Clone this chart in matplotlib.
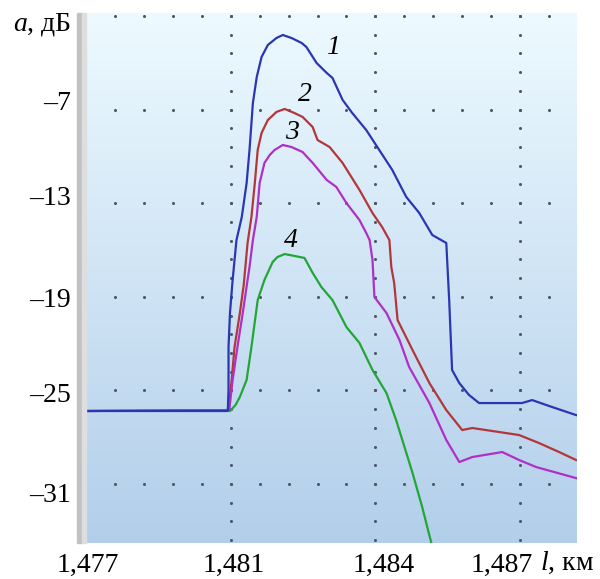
import numpy as np
import matplotlib
matplotlib.use("Agg")
import matplotlib.pyplot as plt
from matplotlib.transforms import ScaledTranslation
from matplotlib.patches import Rectangle

plt.rcParams['font.family'] = ['Liberation Serif', 'DejaVu Serif']
plt.rcParams['mathtext.fontset'] = 'custom'
plt.rcParams['mathtext.it'] = 'Liberation Serif:italic'
plt.rcParams['mathtext.rm'] = 'Liberation Serif'

# ---------------- data (l in km, a in dB) ----------------
x1 = [1.47700, 1.48092, 1.48094, 1.48094, 1.48098, 1.48104, 1.48112, 1.48123, 1.48133,
      1.48139, 1.48146, 1.48154, 1.48164, 1.48177, 1.48195, 1.48208, 1.48226, 1.48247,
      1.48257, 1.48278, 1.48299, 1.48311, 1.48332, 1.48352, 1.48381, 1.48408, 1.48435,
      1.48464, 1.48491, 1.48518, 1.48547, 1.48553, 1.48559, 1.48574, 1.48594, 1.48615,
      1.48657, 1.48704, 1.48725, 1.48766, 1.48816]
y1 = [-26.32, -26.32, -24.97, -22.22, -20.04, -17.92, -15.36, -13.88, -11.71,
      -9.59, -6.58, -4.91, -3.63, -2.86, -2.41, -2.22, -2.41, -2.73,
      -2.99, -4.01, -4.65, -4.97, -6.38, -7.22, -8.31, -9.59, -10.87,
      -12.60, -13.63, -15.04, -15.55, -19.21, -23.69, -24.53, -25.29, -25.81,
      -25.81, -25.81, -25.62, -26.06, -26.58]

x2 = [1.47700, 1.48094, 1.48102, 1.48108, 1.48119, 1.48127, 1.48135, 1.48143, 1.48150,
      1.48156, 1.48164, 1.48177, 1.48195, 1.48212, 1.48232, 1.48249, 1.48270, 1.48280,
      1.48305, 1.48332, 1.48367, 1.48394, 1.48414, 1.48429, 1.48433, 1.48439, 1.48446,
      1.48477, 1.48512, 1.48547, 1.48580, 1.48601, 1.48657, 1.48698, 1.48739, 1.48781,
      1.48816]
y2 = [-26.32, -26.26, -24.33, -22.22, -20.04, -18.24, -15.55, -13.88, -11.71,
      -9.59, -8.50, -7.67, -7.15, -6.96, -7.22, -7.47, -8.12, -8.95,
      -9.40, -10.42, -12.15, -13.63, -14.53, -15.36, -17.09, -18.12, -20.49,
      -22.41, -24.53, -26.26, -27.54, -27.41, -27.67, -27.86, -28.37, -28.95,
      -29.46]

x3 = [1.47700, 1.48096, 1.48104, 1.48114, 1.48125, 1.48135, 1.48139, 1.48146, 1.48154,
      1.48160, 1.48170, 1.48181, 1.48191, 1.48208, 1.48226, 1.48249, 1.48270, 1.48299,
      1.48319, 1.48340, 1.48367, 1.48381, 1.48388, 1.48394, 1.48398, 1.48423, 1.48450,
      1.48470, 1.48512, 1.48547, 1.48574, 1.48601, 1.48663, 1.48698, 1.48733, 1.48816]
y3 = [-26.32, -26.26, -24.33, -22.22, -20.04, -17.92, -17.09, -15.36, -13.88,
      -11.71, -10.42, -9.91, -9.59, -9.27, -9.40, -9.72, -10.42, -11.51,
      -11.96, -12.99, -14.08, -14.91, -15.36, -16.64, -19.01, -20.04, -21.77,
      -23.50, -25.81, -28.18, -29.59, -29.27, -28.95, -29.46, -29.91, -30.62]

x4 = [1.48098, 1.48110, 1.48119, 1.48133, 1.48143, 1.48156, 1.48170, 1.48187, 1.48197,
      1.48212, 1.48232, 1.48253, 1.48270, 1.48288, 1.48311, 1.48340, 1.48367, 1.48394,
      1.48423, 1.48443, 1.48477, 1.48497, 1.48516, 1.48522]
y4 = [-26.32, -25.94, -25.42, -24.33, -22.22, -19.21, -17.92, -16.77, -16.45,
      -16.26, -16.38, -16.51, -17.47, -18.37, -19.21, -20.94, -21.96, -23.69,
      -25.17, -26.90, -30.29, -32.47, -34.78, -35.30]

curve_labels = ["1", "2", "3", "4"]
label_x = [1.48311, 1.48253, 1.48228, 1.48224]
label_y = [-3.05, -6.06, -8.50, -15.42]

xticks = [1.477, 1.481, 1.484, 1.487]
xtick_labels = ["1,477", "1,481", "1,484", "1,487"]
yticks = [-7, -13, -19, -25, -31]
ytick_labels = ["–7", "–13", "–19", "–25", "–31"]

# ---------------- axis scale (compressed left segment) ----------------
BREAK = 1.481
RATIO = 0.75


def fwd(x):
    x = np.asarray(x, dtype=float)
    return np.where(x < BREAK, BREAK + (x - BREAK) * RATIO, x)


def inv(d):
    d = np.asarray(d, dtype=float)
    return np.where(d < BREAK, BREAK + (d - BREAK) / RATIO, d)


fig = plt.figure(figsize=(6.0, 5.79), dpi=100)
pos = [86 / 600, 1 - 543 / 579, (577 - 86) / 600, (543 - 13) / 579]

# background gradient
bg = fig.add_axes(pos, zorder=0)
grad = np.linspace(0, 1, 256)[:, None]
top = np.array([0.93, 0.98, 1.0])
bot = np.array([0.70, 0.81, 0.92])
img = top[None, None, :] * (1 - grad[:, :, None]) + bot[None, None, :] * grad[:, :, None]
bg.imshow(img, aspect='auto', extent=[0, 1, 0, 1], interpolation='bilinear')
bg.set_axis_off()

ax = fig.add_axes(pos, zorder=1)
ax.set_facecolor('none')
ax.set_xscale('function', functions=(fwd, inv))

# dotted grid
dot_color = '#4d5862'
row_vals = [-1, -7, -13, -19, -25, -31]
row_x = [float(inv(BREAK + k * 0.0006)) for k in range(-4, 12)]
for r in row_vals:
    ax.plot(row_x, [r] * len(row_x), ls='none', marker='o', ms=2.2, color=dot_color, mec='none')
col_vals = [1.481, 1.484, 1.487]
col_y = [-1 - 1.2 * j for j in range(29)]
for c in col_vals:
    ax.plot([c] * len(col_y), col_y, ls='none', marker='o', ms=2.2, color=dot_color, mec='none')

lw = 1.6
ax.plot(x4, y4, color='#22a635', lw=lw, solid_joinstyle='round')
ax.plot(x2, y2, color='#b3373a', lw=lw, solid_joinstyle='round')
ax.plot(x3, y3, color='#b02fc6', lw=lw, solid_joinstyle='round')
ax.plot(x1, y1, color='#2a36b4', lw=lw, solid_joinstyle='round')

for t, lx, ly in zip(curve_labels, label_x, label_y):
    ax.text(lx, ly, t, fontsize=20, style='italic', ha='center', va='center')

ax.set_xlim(1.477, 1.48818)
ax.set_ylim(-34.78, -0.81)

for s in ax.spines.values():
    s.set_visible(False)

ax.set_xticks(xticks)
ax.set_xticklabels(xtick_labels)
ax.set_yticks(yticks)
ax.set_yticklabels(ytick_labels)
ax.minorticks_off()
ax.tick_params(axis='x', length=0, pad=7, labelsize=20)
ax.tick_params(axis='y', length=0, pad=11, labelsize=20)

xoffsets = [2, 3, 8, -18]
for lab, dx in zip(ax.get_xticklabels(), xoffsets):
    lab.set_transform(lab.get_transform() + ScaledTranslation(dx / 100, 0, fig.dpi_scale_trans))
yoffsets = [9, 8, -1, -2, -8]
for lab, dy in zip(ax.get_yticklabels(), yoffsets):
    lab.set_transform(lab.get_transform() + ScaledTranslation(0, dy / 100, fig.dpi_scale_trans))

# gray bar at left of plot
fig.patches.append(Rectangle((77 / 600, 1 - 543 / 579), 5 / 600, 530 / 579,
                             transform=fig.transFigure, color='#c2c2c2', zorder=2))
fig.patches.append(Rectangle((82 / 600, 1 - 543 / 579), 4 / 600, 530 / 579,
                             transform=fig.transFigure, color='#dedede', zorder=2))

fig.text(13 / 600, 1 - 30 / 579, r"$a$, дБ", fontsize=20, ha='left', va='baseline')
fig.text(540 / 600, 1 - 570 / 579, r"$l$, км", fontsize=20, ha='left', va='baseline')

fig.savefig("out.png", dpi=100)
